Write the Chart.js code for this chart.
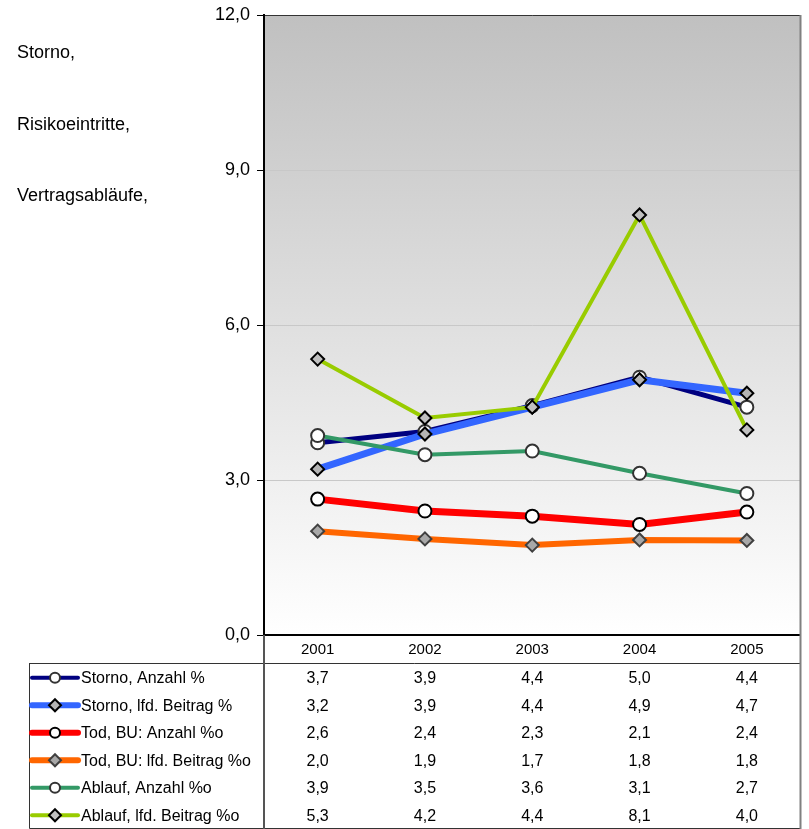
<!DOCTYPE html>
<html>
<head>
<meta charset="utf-8">
<script src="https://cdn.jsdelivr.net/npm/chart.js@4"></script>
<style>
  body { margin: 0; background: #fff; }
  canvas { display: block; }
</style>
</head>
<body>
<canvas id="chart" width="809" height="829"></canvas>
<script>
// values (table shows them rounded to one decimal)
const years = ['2001', '2002', '2003', '2004', '2005'];
const stornoAnzahl = [3.72, 3.94, 4.44, 4.99, 4.41];
const stornoBeitrag = [3.21, 3.89, 4.41, 4.94, 4.68];
const todAnzahl = [2.63, 2.40, 2.30, 2.14, 2.38];
const todBeitrag = [2.01, 1.86, 1.74, 1.84, 1.83];
const ablaufAnzahl = [3.86, 3.49, 3.56, 3.13, 2.74];
const ablaufBeitrag = [5.34, 4.20, 4.41, 8.13, 3.97];
const yTicks = [0, 3, 6, 9, 12];
const sideNotes = ['Storno,', 'Risikoeintritte,', 'Vertragsabläufe,'];

const FONT = '"Liberation Sans", Arial, sans-serif';

function fmt(v, digits) {
  return v.toFixed(digits).replace('.', ',');
}

const series = [
  { label: 'Storno, Anzahl %', data: stornoAnzahl, color: '#000080', width: 5, style: 'circle', fill: '#ffffff', edge: '#333333' },
  { label: 'Storno, lfd. Beitrag %', data: stornoBeitrag, color: '#3366ff', width: 7, style: 'rectRot', fill: '#b4b4b4', edge: '#000000' },
  { label: 'Tod, BU: Anzahl %o', data: todAnzahl, color: '#ff0000', width: 7, style: 'circle', fill: '#ffffff', edge: '#000000' },
  { label: 'Tod, BU: lfd. Beitrag %o', data: todBeitrag, color: '#ff6600', width: 6, style: 'rectRot', fill: '#a8a8a8', edge: '#404040' },
  { label: 'Ablauf, Anzahl %o', data: ablaufAnzahl, color: '#339966', width: 4, style: 'circle', fill: '#ffffff', edge: '#333333' },
  { label: 'Ablauf, lfd. Beitrag %o', data: ablaufBeitrag, color: '#99cc00', width: 4, style: 'rectRot', fill: '#c0c0c0', edge: '#000000' }
];

const backgroundPlugin = {
  id: 'plotBackground',
  beforeDraw(chart) {
    const { ctx, chartArea: a } = chart;
    const g = ctx.createLinearGradient(0, a.top, 0, a.bottom);
    g.addColorStop(0, '#c0c0c0');
    g.addColorStop(1, '#ffffff');
    ctx.save();
    ctx.fillStyle = g;
    ctx.fillRect(a.left, a.top, a.right - a.left, a.bottom - a.top);
    ctx.restore();
  }
};

const tablePlugin = {
  id: 'dataTable',
  afterDraw(chart) {
    const { ctx, chartArea: a } = chart;
    const x = chart.scales.x;
    const tableTop = 663;
    const bottom = 828;
    const rowH = (bottom - tableTop) / series.length;
    const tableLeft = 29;

    ctx.save();
    // frame lines
    ctx.strokeStyle = '#333333';
    ctx.lineWidth = 1;
    ctx.beginPath();
    ctx.moveTo(tableLeft + 0.5, tableTop);
    ctx.lineTo(tableLeft + 0.5, bottom + 0.5);
    ctx.lineTo(a.right, bottom + 0.5);
    ctx.moveTo(tableLeft, tableTop + 0.5);
    ctx.lineTo(a.right, tableTop + 0.5);
    ctx.stroke();
    ctx.strokeStyle = '#555555';
    ctx.lineWidth = 2;
    ctx.beginPath();
    ctx.moveTo(a.left, a.bottom);
    ctx.lineTo(a.left, bottom + 1);
    ctx.stroke();
    ctx.strokeStyle = '#808080';
    ctx.lineWidth = 2;
    ctx.beginPath();
    ctx.moveTo(a.right, a.top);
    ctx.lineTo(a.right, bottom + 1);
    ctx.stroke();

    ctx.textBaseline = 'middle';
    series.forEach((s, i) => {
      const cy = tableTop + rowH * (i + 0.5) + 1;
      // legend key
      ctx.strokeStyle = s.color;
      ctx.lineWidth = s.width > 5 ? 6 : 4;
      ctx.lineCap = 'round';
      ctx.beginPath();
      ctx.moveTo(32, cy);
      ctx.lineTo(78, cy);
      ctx.stroke();
      ctx.lineCap = 'butt';
      ctx.fillStyle = s.fill;
      ctx.strokeStyle = s.edge;
      ctx.lineWidth = 2;
      ctx.beginPath();
      if (s.style === 'circle') {
        ctx.arc(55, cy, 5, 0, Math.PI * 2);
      } else {
        ctx.moveTo(55, cy - 6);
        ctx.lineTo(61, cy);
        ctx.lineTo(55, cy + 6);
        ctx.lineTo(49, cy);
        ctx.closePath();
      }
      ctx.fill();
      ctx.stroke();

      ctx.fillStyle = '#000';
      ctx.font = '16px ' + FONT;
      ctx.textAlign = 'left';
      ctx.fillText(s.label, 81, cy + 1);
      ctx.textAlign = 'center';
      s.data.forEach((v, j) => {
        ctx.fillText(fmt(v, 1), x.getPixelForValue(j), cy + 1);
      });
    });

    // notes on the left
    ctx.font = '18px ' + FONT;
    ctx.textAlign = 'left';
    const noteY = [53, 125, 196];
    sideNotes.forEach((t, i) => ctx.fillText(t, 17, noteY[i]));
    ctx.restore();
  }
};

new Chart(document.getElementById('chart'), {
  type: 'line',
  data: {
    labels: years,
    datasets: series.map((s, i) => ({
      label: s.label,
      data: s.data,
      borderColor: s.color,
      borderWidth: s.width,
      tension: 0,
      pointStyle: s.style,
      pointRadius: 6.5,
      pointBackgroundColor: s.fill,
      pointBorderColor: s.edge,
      pointBorderWidth: 2,
      order: series.length - i
    }))
  },
  options: {
    responsive: false,
    animation: false,
    layout: { padding: { top: 15, right: 7, left: 0, bottom: 0 } },
    plugins: {
      legend: { display: false },
      tooltip: { enabled: false }
    },
    scales: {
      x: {
        offset: true,
        grid: { display: false, drawTicks: false },
        border: { color: '#000', width: 2 },
        ticks: { color: '#000', font: { family: FONT, size: 15 }, padding: 6, maxRotation: 0 },
        afterFit(scale) {
          scale.height = 829 - 635;
          scale.paddingLeft = 0;
          scale.paddingRight = 0;
        }
      },
      y: {
        min: 0,
        max: 12,
        afterBuildTicks(scale) { scale.ticks = yTicks.map(v => ({ value: v })); },
        grid: {
          color: ctx => (ctx.tick && ctx.tick.value === 12 ? '#333333' : '#c8c8c8'),
          tickColor: '#000',
          tickLength: 7,
          lineWidth: 1
        },
        border: { color: '#000', width: 2 },
        ticks: {
          color: '#000',
          font: { family: FONT, size: 18 },
          padding: 7,
          callback: v => fmt(v, 1)
        },
        afterFit(scale) {
          scale.width = 264;
          scale.paddingTop = 0;
          scale.paddingBottom = 0;
        }
      }
    }
  },
  plugins: [backgroundPlugin, tablePlugin]
});
</script>
</body>
</html>
